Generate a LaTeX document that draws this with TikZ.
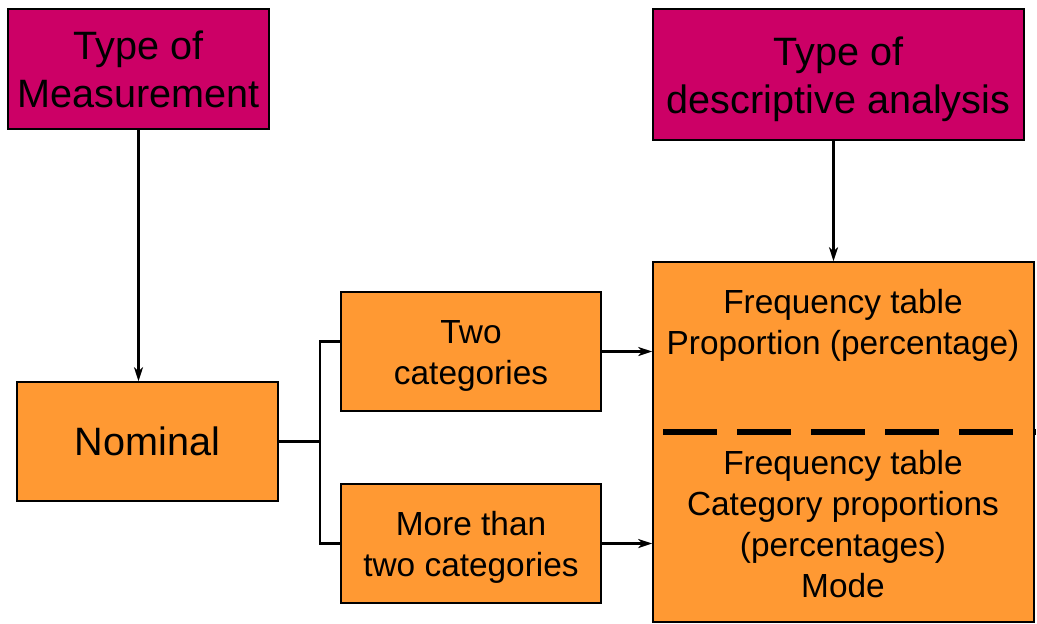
\documentclass[tikz,border=0pt]{standalone}
\usepackage{fontspec}
\setmainfont{Liberation Sans}
\usetikzlibrary{arrows.meta}
\definecolor{magbox}{RGB}{204,0,102}
\definecolor{orbox}{RGB}{255,153,51}
\begin{document}
\begin{tikzpicture}[x=0.5pt,y=-0.5pt,
  bigtext/.style={font=\fontsize{19.8}{24}\selectfont},
  smalltext/.style={font=\fontsize{16.7}{20.5}\selectfont},
  magnode/.style={draw=black, line width=0.8pt, fill=magbox, align=center, inner sep=0pt, bigtext},
  ornode/.style={draw=black, line width=0.8pt, fill=orbox, align=center, inner sep=0pt},
  conn/.style={line width=1.4pt, line join=miter},
  arr/.style={conn, -{Stealth[length=7pt, width=4.5pt, inset=2pt]}}
]
\useasboundingbox (0,0) rectangle (1037,623);
\node[magnode, minimum width=130.5pt, minimum height=60pt] (tm) at (138.5,69) {Type of\\Measurement};
\node[magnode, minimum width=185.5pt, minimum height=65.5pt] (td) at (838.5,74.5) {};
\node[bigtext, align=center] (tdt) at ([yshift=-2.5pt]td.center) {Type of\\descriptive analysis};
\node[ornode, bigtext, minimum width=130.5pt, minimum height=59.5pt] (nom) at (147.5,441.5) {Nominal};
\node[ornode, minimum width=130pt, minimum height=59.5pt] (two) at (471,351.5) {};
\node[smalltext, align=center] (twot) at ([yshift=-2pt]two.center) {Two\\categories};
\node[ornode, minimum width=130pt, minimum height=59.5pt] (more) at (471,543.5) {};
\node[smalltext, align=center] (moret) at ([yshift=-2pt]more.center) {More than\\two categories};
\node[ornode, minimum width=190.5pt, minimum height=180pt] (res) at (843.5,442) {};
\node[smalltext, align=center] (restop) at (843,325) {Frequency table\\Proportion (percentage)};
\node[smalltext, align=center] (resbot) at (843,524.5) {Frequency table\\Category proportions\\(percentages)\\Mode};
\coordinate (ds) at (663,432);
\draw[line width=2.6pt, dash pattern=on 27pt off 10pt] (ds) -- ([xshift=0.6pt]res.east |- ds);
\draw[arr] (tm.south) -- (tm.south |- nom.north);
\draw[arr] ([xshift=-2.5pt]td.south) -- ([xshift=-2.5pt]td.south |- res.north);
\coordinate (br) at (320,441.5);
\draw[conn] (nom.east) -- (br);
\draw[conn] ([yshift=5pt]two.west) -| (br) |- (more.west);
\draw[arr] (two.east) -- (two.east -| res.west);
\draw[arr] (more.east) -- (more.east -| res.west);
\end{tikzpicture}
\end{document}
